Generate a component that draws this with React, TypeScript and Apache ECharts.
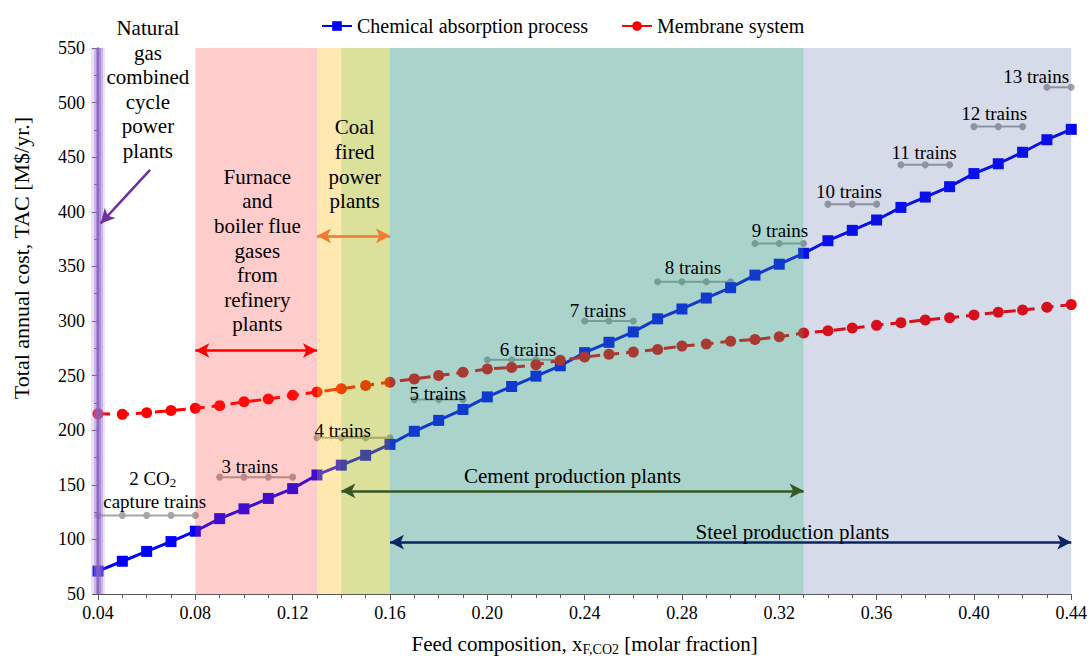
import React, { useEffect, useRef } from "react";
import * as echarts from "echarts";

// ---- data ----
const xValues = [
  0.04, 0.05, 0.06, 0.07, 0.08, 0.09, 0.1, 0.11, 0.12, 0.13, 0.14, 0.15, 0.16, 0.17,
  0.18, 0.19, 0.2, 0.21, 0.22, 0.23, 0.24, 0.25, 0.26, 0.27, 0.28, 0.29, 0.3, 0.31,
  0.32, 0.33, 0.34, 0.35, 0.36, 0.37, 0.38, 0.39, 0.4, 0.41, 0.42, 0.43, 0.44,
];
const chemical = [
  71, 80, 89, 98, 107.5, 119, 128, 137.5, 146.5, 159, 168, 177, 187, 199, 209, 219,
  230.5, 240, 249.5, 259, 271, 280.5, 290, 302, 311, 321, 330.5, 342, 352, 362,
  373.5, 383, 392.5, 404, 413.5, 423, 435, 444, 454.5, 466, 475.5,
];
const membrane = [
  215, 214.5, 216, 218, 220, 222.5, 226, 228.5, 232, 235, 238, 241, 244, 247, 250,
  253, 256, 257.5, 260, 264, 267, 269.5, 271.5, 274, 277, 279, 281.5, 283, 285.5, 289,
  291, 293.5, 296, 298.5, 301, 303, 305.5, 308, 310, 312.5, 315,
];
const trainCounts = [2, 3, 4, 5, 6, 7, 8, 9, 10, 11, 12, 13];
const trainStart = [0.04, 0.09, 0.13, 0.17, 0.2, 0.24, 0.27, 0.31, 0.34, 0.37, 0.4, 0.43];
const trainEnd = [0.08, 0.12, 0.16, 0.19, 0.23, 0.26, 0.3, 0.33, 0.36, 0.39, 0.42, 0.44];
const trainLevels = [122, 157, 193, 228, 264.5, 300, 336, 371, 407, 443, 478, 514];

// source ranges (x, molar fraction)
const refineryRange = [0.08, 0.13];
const coalRange = [0.13, 0.16];
const cementRange = [0.14, 0.33];
const steelRange = [0.16, 0.44];
const ngccX = 0.04;
const yRange = [50, 550];

// ---- presentation ----
const FONT = "'Liberation Serif', 'Times New Roman', serif";

const regionLabels = [
  { text: "Natural\ngas\ncombined\ncycle\npower\nplants", x: 0.0605, y: 512 },
  { text: "Furnace\nand\nboiler flue\ngases\nfrom\nrefinery\nplants", x: 0.1055, y: 364.5 },
  { text: "Coal\nfired\npower\nplants", x: 0.1455, y: 443.5 },
  { text: "Cement production plants", x: 0.235, y: 158 },
  { text: "Steel production plants", x: 0.3254, y: 106.5 },
];
const trainLabelPos = [
  [0.0625, 156.2],
  [0.1024, 167],
  [0.1406, 199.7],
  [0.1796, 233.8],
  [0.2167, 273.7],
  [0.2455, 309.5],
  [0.2845, 348.7],
  [0.3203, 382.6],
  [0.3486, 418.4],
  [0.3795, 454.7],
  [0.4083, 490.1],
  [0.4256, 524.1],
];

export default function App() {
  const ref = useRef<HTMLDivElement>(null);

  useEffect(() => {
    document.body.style.margin = "0";
    if (!ref.current) return;
    const chart = echarts.init(ref.current, undefined, { renderer: "svg" });

    const trainSeries = trainCounts.map((n, k) => ({
      name: `${n} trains`,
      type: "line",
      z: 2,
      silent: true,
      data: xValues
        .filter((x) => x >= trainStart[k] - 1e-9 && x <= trainEnd[k] + 1e-9)
        .map((x) => [x, trainLevels[k]]),
      symbol: "circle",
      symbolSize: 7,
      lineStyle: { color: "#a5a5a5", width: 2 },
      itemStyle: { color: "#a5a5a5" },
    }));

    const seg = (x1: number, y1: number, x2: number, y2: number, color: string, width: number, s1: string, s2: string) => [
      { coord: [x1, y1], symbol: s1, lineStyle: { color, width, type: "solid" } },
      { coord: [x2, y2], symbol: s2 },
    ];

    const ngccLine = (color: string, width: number) => [
      { coord: [ngccX, yRange[0]], lineStyle: { color, width, type: "solid" } },
      { coord: [ngccX, yRange[1]] },
    ];

    const option: any = {
      animation: false,
      backgroundColor: "#fff",
      textStyle: { fontFamily: FONT },
      grid: { left: 98, right: 18, top: 48, bottom: 61, containLabel: false },
      legend: {
        data: ["Chemical absorption process", "Membrane system"],
        left: 316,
        top: 11,
        itemWidth: 30,
        itemHeight: 12,
        itemGap: 33,
        textStyle: { fontSize: 20, color: "#000", fontFamily: FONT },
      },
      xAxis: {
        type: "value",
        min: 0.04,
        max: 0.44,
        interval: 0.04,
        z: 8,
        axisLine: { lineStyle: { color: "#595959", width: 1 } },
        axisTick: { show: true, length: 6, lineStyle: { color: "#595959" } },
        minorTick: { show: true, splitNumber: 4, length: 4, lineStyle: { color: "#595959" } },
        splitLine: { show: false },
        axisLabel: {
          fontSize: 18,
          color: "#000",
          margin: 10,
          fontFamily: FONT,
          formatter: (v: number) => v.toFixed(2),
        },
        name: "Feed composition, x{sub|F,CO2} [molar fraction]",
        nameLocation: "middle",
        nameGap: 38,
        nameTextStyle: {
          fontSize: 21,
          color: "#000",
          fontFamily: FONT,
          rich: { sub: { fontSize: 14, fontFamily: FONT, color: "#000", padding: [10, 0, 0, 0] } },
        },
      },
      yAxis: {
        type: "value",
        min: yRange[0],
        max: yRange[1],
        interval: 50,
        z: 8,
        axisLine: { show: true, lineStyle: { color: "#4a3a7a", width: 1.5 } },
        axisTick: { show: true, length: 6, lineStyle: { color: "#595959" } },
        minorTick: { show: true, splitNumber: 2, length: 4, lineStyle: { color: "#595959" } },
        splitLine: { show: false },
        axisLabel: { fontSize: 18, color: "#000", margin: 13, fontFamily: FONT },
      },
      series: [
        ...trainSeries,
        {
          name: "Chemical absorption process",
          type: "line",
          z: 3,
          data: xValues.map((x, i) => [x, chemical[i]]),
          symbol: "rect",
          symbolSize: 11,
          lineStyle: { color: "#0000ff", width: 3 },
          itemStyle: { color: "#0000ff" },
        },
        {
          name: "Membrane system",
          type: "line",
          z: 3,
          data: xValues.map((x, i) => [x, membrane[i]]),
          symbol: "circle",
          symbolSize: 11,
          lineStyle: { color: "#ff0000", width: 3, type: [12, 7] },
          itemStyle: { color: "#ff0000" },
        },
        {
          name: "bands",
          type: "line",
          z: 5,
          silent: true,
          data: [],
          markArea: {
            z: 5,
            silent: true,
            label: { show: false },
            data: [
              [{ xAxis: refineryRange[0], itemStyle: { color: "rgba(255,51,51,0.25)" } }, { xAxis: refineryRange[1] }],
              [{ xAxis: coalRange[0], itemStyle: { color: "rgba(255,192,29,0.35)" } }, { xAxis: cementRange[0] }],
              [{ xAxis: cementRange[0], itemStyle: { color: "rgba(165,178,5,0.4)" } }, { xAxis: coalRange[1] }],
              [{ xAxis: steelRange[0], itemStyle: { color: "rgba(40,145,125,0.4)" } }, { xAxis: cementRange[1] }],
              [{ xAxis: cementRange[1], itemStyle: { color: "rgba(45,75,140,0.2)" } }, { xAxis: steelRange[1] }],
            ],
          },
        },
        {
          name: "ngcc",
          type: "line",
          z: 9,
          silent: true,
          data: [],
          markLine: {
            z: 9,
            silent: true,
            symbol: "none",
            label: { show: false },
            data: [
              ngccLine("rgba(170,135,215,0.25)", 14),
              ngccLine("rgba(155,115,205,0.4)", 9),
              ngccLine("rgba(140,100,200,0.5)", 5),
            ],
          },
        },
        {
          name: "arrows",
          type: "line",
          z: 10,
          silent: true,
          data: [],
          markLine: {
            z: 10,
            silent: true,
            symbolSize: [11, 14],
            label: { show: false },
            data: [
              seg(refineryRange[0], 273, refineryRange[1], 273, "#ff0000", 2.5, "arrow", "arrow"),
              seg(coalRange[0], 378, coalRange[1], 378, "#ed7d31", 2.5, "arrow", "arrow"),
              seg(cementRange[0], 144.5, cementRange[1], 144.5, "#375623", 2.5, "arrow", "arrow"),
              seg(steelRange[0], 97.5, steelRange[1], 97.5, "#0c2462", 2.5, "arrow", "arrow"),
              seg(0.0614, 438.4, 0.0411, 389.4, "#7030a0", 2.5, "none", "arrow"),
            ],
          },
        },
      ],
    };

    chart.setOption(option);

    const px = (x: number, y: number) =>
      chart.convertToPixel({ xAxisIndex: 0, yAxisIndex: 0 }, [x, y]) as number[];

    const txt = (text: string, p: number[], size: number, extra: any = {}) => ({
      type: "text",
      x: p[0],
      y: p[1],
      z: 100,
      silent: true,
      style: {
        text,
        fill: "#000",
        fontSize: size,
        fontFamily: FONT,
        align: "center",
        verticalAlign: "middle",
        textAlign: "center",
        textVerticalAlign: "middle",
        lineHeight: 24.6,
        ...(extra.style || {}),
      },
    });

    const graphics: any[] = [];
    regionLabels.forEach((r) => graphics.push(txt(r.text, px(r.x, r.y), 21)));
    trainCounts.forEach((n, k) => {
      const p = px(trainLabelPos[k][0], trainLabelPos[k][1]);
      if (n === 2) {
        graphics.push(
          txt("2 CO{sub|2}", p, 19, {
            style: {
              rich: { sub: { fontSize: 13, fontFamily: FONT, fill: "#000", padding: [9, 0, 0, 0] } },
            },
          })
        );
        graphics.push(txt("capture trains", px(0.0633, 134.8), 19));
      } else {
        graphics.push(txt(`${n} trains`, p, 19));
      }
    });
    // y-axis title
    graphics.push({
      type: "text",
      x: 21,
      y: 258,
      rotation: Math.PI / 2,
      z: 100,
      silent: true,
      style: {
        text: "Total annual cost, TAC [M$/yr.]",
        fill: "#000",
        fontSize: 22,
        fontFamily: FONT,
        align: "center",
        verticalAlign: "middle",
        textAlign: "center",
        textVerticalAlign: "middle",
      },
    });

    chart.setOption({ graphic: graphics });

    return () => chart.dispose();
  }, []);

  return <div ref={ref} style={{ width: 1090, height: 661 }} />;
}
